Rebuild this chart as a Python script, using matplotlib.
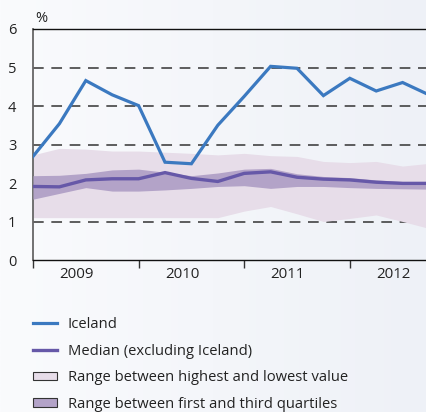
import numpy as np
import matplotlib
matplotlib.use("Agg")
import matplotlib.pyplot as plt
from matplotlib.lines import Line2D
from matplotlib.patches import Patch
from matplotlib.colors import LinearSegmentedColormap

plt.rcParams['font.family'] = ['Open Sans', 'DejaVu Sans']

# quarterly data, 2009Q1 .. 2012Q4
quarters = list(range(16))
iceland = [2.69, 3.54, 4.66, 4.29, 4.01, 2.54, 2.50, 3.50, 4.25, 5.03, 4.98, 4.27, 4.72, 4.39, 4.61, 4.29]
median = [1.91, 1.90, 2.08, 2.11, 2.11, 2.27, 2.12, 2.04, 2.25, 2.29, 2.15, 2.10, 2.08, 2.02, 1.99, 1.99]
q_upper = [2.19, 2.20, 2.25, 2.34, 2.36, 2.28, 2.19, 2.26, 2.36, 2.38, 2.24, 2.17, 2.14, 2.08, 2.04, 2.04]
q_lower = [1.58, 1.73, 1.88, 1.79, 1.79, 1.82, 1.86, 1.91, 1.93, 1.86, 1.91, 1.91, 1.88, 1.86, 1.85, 1.84]
r_upper = [2.73, 2.90, 2.88, 2.83, 2.83, 2.80, 2.77, 2.73, 2.77, 2.71, 2.69, 2.56, 2.53, 2.56, 2.44, 2.51]
r_lower = [1.10, 1.10, 1.10, 1.10, 1.10, 1.10, 1.10, 1.10, 1.27, 1.39, 1.20, 1.00, 1.08, 1.17, 1.00, 0.82]
years = ['2009', '2010', '2011', '2012']
yticks = [0, 1, 2, 3, 4, 5, 6]

c_ice = '#3b79c0'
c_med = '#6658a8'
c_q = '#b3a3c8'
c_r = '#e7dde9'

W, H = 427, 412
fig = plt.figure(figsize=(W / 100, H / 100), dpi=100)

# background gradient
bg = fig.add_axes([0, 0, 1, 1], zorder=-10)
grad = np.linspace(0, 1, 256)[None, :]
cmap = LinearSegmentedColormap.from_list('bg', ['#fafbfd', '#eef1f7'])
bg.imshow(grad, aspect='auto', cmap=cmap, extent=[0, 1, 0, 1])
bg.axis('off')

left = 33 / W
bottom = 1 - 260 / H
top = 1 - 29 / H
ax = fig.add_axes([left, bottom, 1 - left, top - bottom])
ax.patch.set_alpha(0)

x = np.array(quarters)
ax.fill_between(x, r_lower, r_upper, color=c_r, lw=0, zorder=2)
ax.fill_between(x, q_lower, q_upper, color=c_q, lw=0, zorder=3)
ax.plot(x, median, color=c_med, lw=2.4, zorder=4, solid_joinstyle='miter')
ax.plot(x, iceland, color=c_ice, lw=2.3, zorder=5, solid_joinstyle='miter')

for yv in [1, 2, 3, 4, 5]:
    ax.axhline(yv, color='#333333', lw=1.1, dashes=(7, 5), zorder=1)

ax.set_xlim(0, (W - 33) / 26.4)
ax.set_ylim(0, 6)
ax.set_yticks(yticks)
ax.set_yticklabels([str(v) for v in yticks], fontsize=10.5, color='#222222')
ax.tick_params(axis='y', length=0, pad=12)

ax.set_xticks([0, 4, 8, 12])
ax.set_xticklabels([])
ax.set_xticks([1.65, 5.65, 9.65, 13.65], minor=True)
ax.set_xticklabels(years, minor=True, fontsize=10.8, color='#222222')
ax.tick_params(axis='x', which='major', length=6, direction='out', color='#333333', width=1)
ax.tick_params(axis='x', which='minor', length=0, pad=5)

ax.spines['right'].set_visible(False)
ax.spines['top'].set_color('#111111')
ax.spines['top'].set_linewidth(1.0)
ax.spines['bottom'].set_color('#111111')
ax.spines['bottom'].set_linewidth(1.0)
ax.spines['left'].set_color('#666666')
ax.spines['left'].set_linewidth(1.3)

fig.text(35 / W, 1 - 19 / H, '%', fontsize=10.5, color='#222222', va='center', ha='left')

handles = [
    Line2D([], [], color=c_ice, lw=2.3),
    Line2D([], [], color=c_med, lw=2.4),
    Patch(facecolor=c_r, edgecolor='#333333', lw=0.8),
    Patch(facecolor=c_q, edgecolor='#333333', lw=0.8),
]
labels = ['Iceland', 'Median (excluding Iceland)',
          'Range between highest and lowest value',
          'Range between first and third quartiles']
fig.legend(handles, labels, loc='upper left', bbox_to_anchor=(33 / W, 1 - 317 / H),
           frameon=False, fontsize=10.6, handlelength=1.6, handleheight=0.55,
           handletextpad=0.75, labelspacing=0.79, borderaxespad=0, borderpad=0,
           labelcolor='#222222')

fig.savefig('out.png', dpi=100)
